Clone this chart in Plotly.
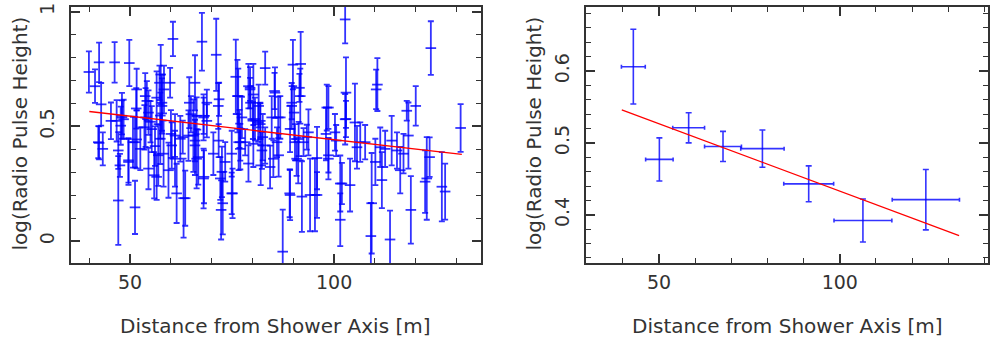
import plotly.graph_objects as go

# left panel: individual events
dist = [39.9, 41.4, 42.4, 42.9, 42.4, 43.3, 46.2, 45.3, 47.1, 48.0, 47.7, 47.5, 49.8, 49.6,
        50.7, 51.2, 51.5, 51.6, 52.5, 53.5, 54.1, 53.8, 54.5, 55.9, 56.5, 57.2, 57.5, 57.8,
        58.3, 56.9, 56.1, 58.2, 60.5, 59.8, 60.2, 61.0, 61.0, 61.4, 60.0, 63.1, 62.9, 64.5,
        64.9, 65.5, 65.9, 67.6, 66.3, 68.0, 68.1, 68.8, 68.8, 71.1, 71.8, 71.7, 72.1, 72.3,
        72.7, 70.4, 73.3, 75.1, 75.9, 76.3, 76.6, 76.8, 77.0, 78.2, 79.0, 79.0,
        48.4, 55.0, 57.4, 66.3, 77.4, 81.4, 82.3,
        79.5, 80.2, 79.4, 80.6, 80.2, 81.5, 81.9, 82.0, 83.1, 82.5, 83.1, 84.3, 84.7, 85.4,
        86.0, 86.4, 86.8, 87.4, 89.1, 89.2, 89.6, 89.9, 90.2, 90.4, 90.8, 91.3, 91.8, 91.5,
        92.1, 92.5, 93.3, 94.1, 95.3, 95.8, 98.0, 98.6, 98.6, 100.5, 101.5, 101.5, 102.7,
        102.9, 102.9, 103.9, 105.1, 105.6, 106.4, 107.6, 109.0, 109.2, 110.1, 110.3, 110.6,
        111.3, 111.7, 112.5, 113.7, 114.1, 115.4, 116.2, 117.0, 117.8, 118.2, 118.8, 120.0,
        122.3, 122.7, 123.4, 123.7, 126.4, 127.2, 131.0,
        79.4, 76.5, 68.0, 64.3, 65.9, 62.3, 66.7, 74.9, 68.0, 72.5, 74.9, 63.5, 77.0, 81.9,
        71.6, 65.9, 80.1, 42.2, 46.7, 48.0, 51.2, 49.6, 47.1, 51.6, 53.7, 57.8, 57.4, 54.5,
        56.5, 59.4, 55.3, 85.5, 89.6, 91.7, 86.3, 98.2, 102.7, 98.6, 91.2, 85.1, 95.8, 89.2,
        101.9, 93.7, 100.2]
height = [0.737, 0.675, 0.779, 0.596, 0.428, 0.402, 0.779, 0.524, 0.177, 0.539, 0.503, 0.330,
          0.776, 0.352, 0.431, 0.147, 0.578, 0.443, 0.402, 0.496, 0.611, 0.539, 0.560, 0.287,
          0.625, 0.690, 0.726, 0.603, 0.661, 0.374, 0.414, 0.381, 0.881, 0.690, 0.417, 0.460,
          0.359, 0.208, 0.467, 0.187, 0.453, 0.603, 0.553, 0.460, 0.417, 0.869, 0.359, 0.546,
          0.280, 0.603, 0.524, 0.812, 0.618, 0.438, 0.273, 0.136, 0.165, 0.381, 0.345, 0.208,
          0.716, 0.632, 0.431, 0.489, 0.402, 0.431, 0.675, 0.338,
          0.531, 0.520, 0.547, 0.546, 0.539, 0.517, 0.395,
          0.603, 0.639, 0.661, 0.532, 0.424, 0.589, 0.524, 0.330, 0.754, 0.453, 0.417, 0.323,
          0.539, 0.654, 0.431, 0.374, 0.539, -0.046, 0.208, 0.489, 0.603, 0.769, 0.560, 0.431,
          0.359, 0.445, 0.772, 0.668, 0.194, 0.431, 0.453, 0.201, 0.201, 0.362, 0.467, 0.374,
          0.582, 0.438, 0.251, 0.093, 0.966, 0.647, 0.532, 0.244, 0.517, 0.409, 0.431, 0.431,
          0.022, 0.165, 0.345, 0.661, 0.682, 0.409, 0.266, 0.402, 0.007, 0.438, 0.395, 0.309,
          0.381, 0.568, 0.460, 0.136, 0.589, 0.259, 0.273, 0.366, 0.841, 0.237, 0.216, 0.493,
          0.668, 0.632, 0.539, 0.460, 0.438, 0.446, 0.366, 0.381, 0.273, 0.302, 0.208, 0.187,
          0.431, 0.510, 0.589, 0.690, 0.525, 0.431, 0.524, 0.546, 0.431, 0.345, 0.395, 0.661,
          0.632, 0.589, 0.446, 0.316, 0.280, 0.309, 0.488, 0.647, 0.589, 0.632, 0.539, 0.582,
          0.531, 0.359, 0.352, 0.359, 0.201, 0.201, 0.251, 0.474, 0.474]
height_err = [0.090, 0.073, 0.086, 0.093, 0.072, 0.072, 0.088, 0.080, 0.193, 0.074, 0.083, 0.050,
              0.101, 0.097, 0.111, 0.116, 0.088, 0.126, 0.093, 0.097, 0.086, 0.128, 0.097, 0.101,
              0.115, 0.075, 0.129, 0.122, 0.104, 0.133, 0.086, 0.144, 0.075, 0.065, 0.101, 0.093,
              0.122, 0.129, 0.104, 0.172, 0.072, 0.111, 0.079, 0.158, 0.129, 0.126, 0.129, 0.079,
              0.115, 0.057, 0.072, 0.157, 0.072, 0.072, 0.093, 0.129, 0.136, 0.093, 0.086, 0.108,
              0.162, 0.158, 0.122, 0.083, 0.090, 0.057, 0.097, 0.079,
              0.085, 0.090, 0.100, 0.080, 0.090, 0.085, 0.080,
              0.072, 0.133, 0.050, 0.093, 0.101, 0.093, 0.079, 0.086, 0.072, 0.101, 0.079, 0.093,
              0.093, 0.079, 0.065, 0.093, 0.093, 0.183, 0.104, 0.101, 0.072, 0.108, 0.115, 0.079,
              0.075, 0.075, 0.140, 0.061, 0.154, 0.061, 0.054, 0.158, 0.158, 0.136, 0.115, 0.075,
              0.093, 0.068, 0.122, 0.115, 0.104, 0.154, 0.079, 0.115, 0.169, 0.093, 0.086, 0.075,
              0.144, 0.219, 0.101, 0.086, 0.115, 0.086, 0.122, 0.079, 0.126, 0.108, 0.079, 0.101,
              0.086, 0.043, 0.144, 0.147, 0.086, 0.136, 0.180, 0.086, 0.117, 0.151, 0.122, 0.104,
              0.090, 0.120, 0.100, 0.110, 0.090, 0.100, 0.120, 0.100, 0.130, 0.110, 0.090, 0.120,
              0.080, 0.090, 0.100, 0.120, 0.080, 0.070, 0.090, 0.100, 0.110, 0.100, 0.080, 0.090,
              0.100, 0.120, 0.110, 0.090, 0.100, 0.120, 0.100, 0.110, 0.100, 0.120, 0.090, 0.100,
              0.110, 0.090, 0.100, 0.080, 0.100, 0.110, 0.090, 0.100, 0.080]
fit_x = [40.0, 131.3]
fit_y = [0.565, 0.378]

# right panel: binned averages
bin_dist = [42.9, 50.1, 58.2, 67.7, 78.6, 91.4, 106.4, 123.8]
bin_dist_err = [3.3, 3.8, 4.4, 5.1, 6.0, 6.9, 8.0, 9.3]
bin_height = [0.606, 0.477, 0.521, 0.495, 0.492, 0.443, 0.392, 0.421]
bin_height_err = [0.052, 0.030, 0.021, 0.021, 0.026, 0.025, 0.030, 0.042]
bin_fit_x = [39.7, 133.0]
bin_fit_y = [0.546, 0.371]

BLUE = 'rgba(0,0,255,0.8)'
INK = '#333333'
FONT = 'DejaVu Sans'

fig = go.Figure()

fig.add_trace(go.Scatter(
    x=dist, y=height, mode='markers',
    marker=dict(size=2, color='rgba(0,0,0,0)'),
    error_x=dict(type='constant', value=1.3, width=0, color=BLUE, thickness=1.8),
    error_y=dict(type='data', array=height_err, width=3, color=BLUE, thickness=1.8),
    xaxis='x', yaxis='y', showlegend=False, hoverinfo='skip'))
fig.add_trace(go.Scatter(
    x=fit_x, y=fit_y, mode='lines', line=dict(color='red', width=1.4),
    xaxis='x', yaxis='y', showlegend=False))

fig.add_trace(go.Scatter(
    x=bin_dist, y=bin_height, mode='markers',
    marker=dict(size=2, color='rgba(0,0,0,0)'),
    error_x=dict(type='data', array=bin_dist_err, width=2, color=BLUE, thickness=1.6),
    error_y=dict(type='data', array=bin_height_err, width=3, color=BLUE, thickness=1.6),
    xaxis='x2', yaxis='y2', showlegend=False, hoverinfo='skip'))
fig.add_trace(go.Scatter(
    x=bin_fit_x, y=bin_fit_y, mode='lines', line=dict(color='red', width=1.3),
    xaxis='x2', yaxis='y2', showlegend=False))

axis_style = dict(
    showline=True, linecolor=INK, linewidth=1.5, mirror='ticks',
    ticks='inside', ticklen=9, tickwidth=1.5, tickcolor=INK,
    showgrid=False, zeroline=False, ticklabeloverflow='allow',
    tickfont=dict(family=FONT, size=19, color=INK),
    minor=dict(ticks='inside', ticklen=5, tickwidth=1, tickcolor=INK, showgrid=False),
)

fig.update_layout(
    width=991, height=342,
    margin=dict(l=0, r=0, t=0, b=0),
    paper_bgcolor='white', plot_bgcolor='white',
    xaxis=dict(axis_style, domain=[0.0716, 0.4854], range=[35.5, 136],
               tick0=0, dtick=50, ticklabelstandoff=2, anchor='y'),
    yaxis=dict(axis_style, domain=[0.234, 0.991], range=[-0.095, 1.02],
               tick0=0, dtick=0.5, tickangle=-90, ticklabelstandoff=8, anchor='x'),
    xaxis2=dict(axis_style, domain=[0.5913, 0.997], range=[29.8, 141],
                tick0=0, dtick=50, ticklabelstandoff=2, anchor='y2'),
    yaxis2=dict(axis_style, domain=[0.234, 0.991], range=[0.333, 0.689],
                tick0=0, dtick=0.1, tickangle=-90, ticklabelstandoff=8, anchor='x2'),
)
fig.update_xaxes(minor_dtick=10)
fig.update_yaxes(minor_dtick=0.1, selector=dict(anchor='x'))
fig.update_yaxes(minor_dtick=0.02, selector=dict(anchor='x2'))

title_font = dict(family=FONT, size=20, color=INK)
for xc in (0.2785, 0.7942):
    fig.add_annotation(text='Distance from Shower Axis [m]', x=xc, y=0.047,
                       xanchor='center', yanchor='middle',
                       xref='paper', yref='paper', showarrow=False, font=title_font)
for xc in (0.0202, 0.539):
    fig.add_annotation(text='log(Radio Pulse Height)', x=xc, y=0.617, textangle=-90,
                       xanchor='center', yanchor='middle',
                       xref='paper', yref='paper', showarrow=False, font=title_font)

fig.write_html("out.html", config={'displayModeBar': False},
               post_script="document.body.style.margin='0px';")
